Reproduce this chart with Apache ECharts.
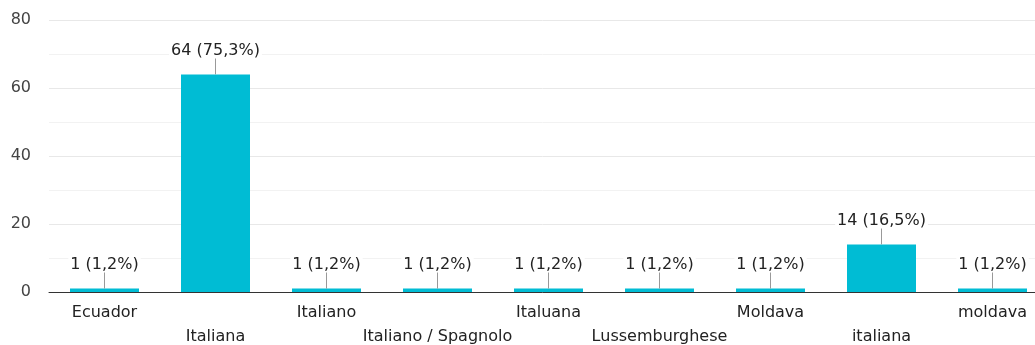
<!DOCTYPE html>
<html>
<head>
<meta charset="utf-8">
<script src="https://cdn.jsdelivr.net/npm/echarts@6/dist/echarts.min.js"></script>
<style>
html,body{margin:0;padding:0;background:#fff;}
#chart{width:1035px;height:345px;}
</style>
</head>
<body>
<div id="chart"></div>
<script>
const categories = ['Ecuador', 'Italiana', 'Italiano', 'Italiano / Spagnolo', 'Italuana', 'Lussemburghese', 'Moldava', 'italiana', 'moldava'];
const counts = [1, 64, 1, 1, 1, 1, 1, 14, 1];
const percents = ['1,2%', '75,3%', '1,2%', '1,2%', '1,2%', '1,2%', '1,2%', '16,5%', '1,2%'];
const yTicks = [0, 20, 40, 60, 80];

const FONT = 'DejaVu Sans';
const chart = echarts.init(document.getElementById('chart'), null, {renderer: 'canvas'});
chart.setOption({
  animation: false,
  backgroundColor: '#ffffff',
  grid: {left: 49, top: 20, bottom: 53, width: 999, containLabel: false, outerBoundsMode: 'none'},
  xAxis: {
    type: 'category',
    data: categories,
    axisLine: {lineStyle: {color: '#333333', width: 1}},
    axisTick: {show: false},
    axisLabel: {
      interval: 0,
      margin: 9,
      lineHeight: 24,
      fontFamily: FONT,
      fontSize: 16,
      color: '#222222',
      formatter: function (v, i) { return i % 2 ? '\n' + v : v; }
    }
  },
  yAxis: {
    type: 'value',
    min: yTicks[0],
    max: yTicks[yTicks.length - 1],
    interval: yTicks[1] - yTicks[0],
    axisLine: {show: false},
    axisTick: {show: false},
    axisLabel: {margin: 18, fontFamily: FONT, fontSize: 16, color: '#444444'},
    splitLine: {lineStyle: {color: '#e8e8e8', width: 1}},
    minorTick: {show: false, splitNumber: 2},
    minorSplitLine: {show: true, lineStyle: {color: '#f2f2f2', width: 1}}
  },
  series: [
    {
      type: 'bar',
      data: counts,
      barWidth: 69,
      itemStyle: {color: '#00BCD4'},
      z: 2
    },
    {
      type: 'custom',
      clip: false,
      z: 5,
      data: counts.map(function (v, i) { return [i, v]; }),
      encode: {x: 0, y: 1},
      renderItem: function (params, api) {
        const p = api.coord([api.value(0), api.value(1)]);
        const i = params.dataIndex;
        return {
          type: 'group',
          children: [
            {
              type: 'line',
              shape: {x1: p[0], y1: p[1], x2: p[0], y2: p[1] - 17},
              style: {stroke: '#999999', lineWidth: 1}
            },
            {
              type: 'text',
              x: p[0],
              y: p[1] - 16,
              style: {
                text: counts[i] + ' (' + percents[i] + ')',
                fill: '#222222',
                fontFamily: FONT,
                fontSize: 16,
                align: 'center',
                verticalAlign: 'bottom',
                backgroundColor: '#ffffff',
                padding: [0, 2, 0, 2]
              }
            }
          ]
        };
      }
    }
  ]
});
</script>
</body>
</html>
